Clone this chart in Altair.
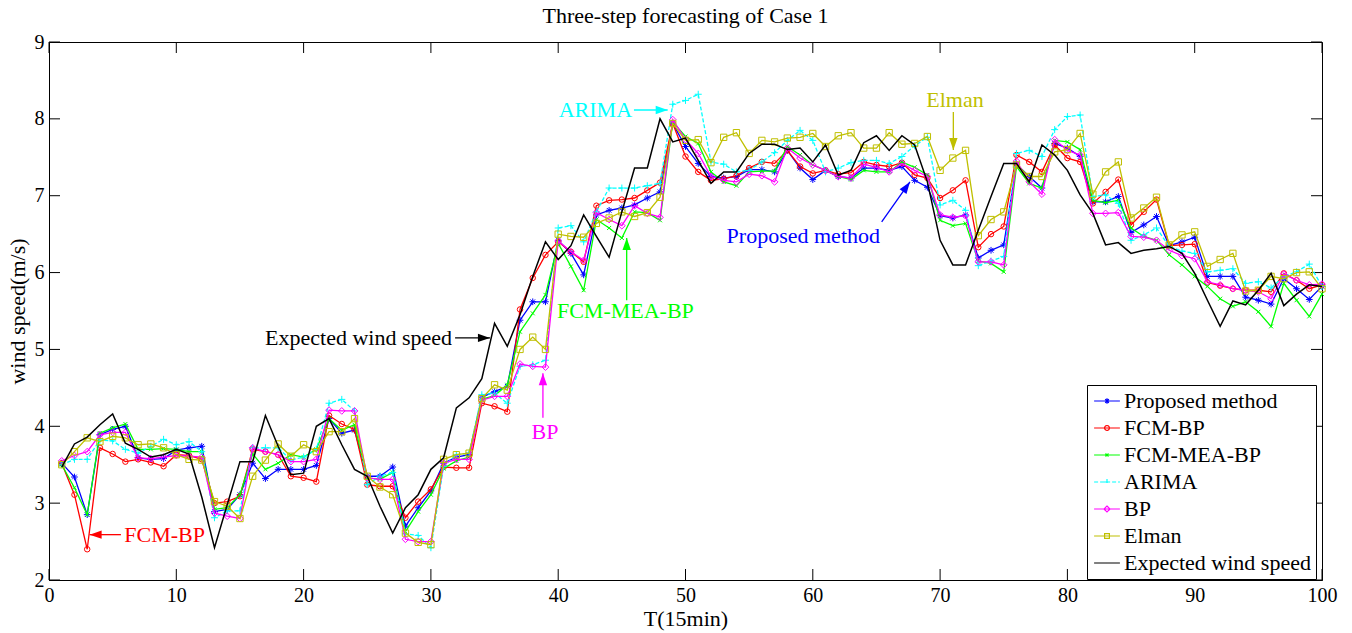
import altair as alt
import pandas as pd

# ---------------- data ----------------
T = list(range(1, 101))
SERIES = ["Proposed method", "FCM-BP", "FCM-MEA-BP", "ARIMA", "BP", "Elman", "Expected wind speed"]

proposed = [3.52, 3.34, 2.85, 3.89, 3.96, 4.00, 3.59, 3.57, 3.58, 3.69,
            3.72, 3.74, 2.89, 2.92, 3.11, 3.52, 3.32, 3.44, 3.44, 3.44,
            3.49, 4.10, 3.91, 3.95, 3.35, 3.35, 3.47, 2.70, 2.94, 3.16,
            3.52, 3.60, 3.63, 4.38, 4.45, 4.52, 5.38, 5.62, 5.62, 6.42,
            6.25, 5.97, 6.75, 6.81, 6.84, 6.88, 6.97, 7.05, 7.94, 7.64,
            7.42, 7.25, 7.23, 7.25, 7.34, 7.34, 7.31, 7.59, 7.36, 7.21,
            7.33, 7.25, 7.23, 7.36, 7.36, 7.33, 7.38, 7.20, 7.11, 6.74,
            6.71, 6.75, 6.19, 6.29, 6.36, 7.41, 7.25, 7.10, 7.68, 7.62,
            7.51, 6.92, 6.92, 6.99, 6.52, 6.62, 6.73, 6.35, 6.40, 6.46,
            5.95, 5.95, 5.95, 5.68, 5.64, 5.59, 5.92, 5.79, 5.65, 5.82]

fcm_bp = [3.52, 3.11, 2.40, 3.72, 3.64, 3.54, 3.57, 3.53, 3.48, 3.63,
          3.62, 3.57, 3.00, 3.02, 3.09, 3.70, 3.67, 3.63, 3.35, 3.33,
          3.28, 4.14, 4.03, 3.96, 3.24, 3.22, 3.22, 2.81, 3.02, 3.18,
          3.47, 3.46, 3.46, 4.30, 4.26, 4.19, 5.52, 5.93, 6.23, 6.40,
          6.27, 6.14, 6.87, 6.94, 6.95, 6.97, 7.07, 7.17, 7.94, 7.51,
          7.31, 7.20, 7.22, 7.26, 7.36, 7.44, 7.42, 7.59, 7.38, 7.29,
          7.33, 7.28, 7.30, 7.44, 7.40, 7.38, 7.43, 7.27, 7.23, 6.97,
          7.07, 7.20, 6.33, 6.50, 6.60, 7.53, 7.44, 7.31, 7.66, 7.49,
          7.44, 6.90, 7.05, 7.21, 6.62, 6.79, 6.95, 6.35, 6.36, 6.37,
          5.87, 5.83, 5.79, 5.77, 5.77, 5.75, 5.99, 5.90, 5.79, 5.84]

fcm_mea_bp = [3.50, 3.20, 2.85, 3.91, 3.98, 4.03, 3.70, 3.70, 3.71, 3.70,
              3.67, 3.67, 2.92, 2.94, 3.11, 3.64, 3.44, 3.52, 3.63, 3.60,
              3.70, 4.10, 3.95, 4.02, 3.33, 3.31, 3.40, 2.63, 2.89, 3.11,
              3.45, 3.55, 3.60, 4.35, 4.40, 4.54, 5.23, 5.47, 5.71, 6.38,
              6.08, 5.77, 6.69, 6.58, 6.45, 6.79, 6.78, 6.68, 7.96, 7.77,
              7.68, 7.31, 7.18, 7.13, 7.31, 7.32, 7.32, 7.64, 7.53, 7.40,
              7.33, 7.25, 7.21, 7.33, 7.31, 7.31, 7.44, 7.37, 7.27, 6.68,
              6.61, 6.64, 6.15, 6.12, 6.01, 7.38, 7.16, 7.10, 7.72, 7.70,
              7.60, 6.94, 6.91, 6.94, 6.58, 6.47, 6.42, 6.23, 6.10, 5.95,
              5.82, 5.66, 5.56, 5.62, 5.49, 5.30, 5.86, 5.64, 5.43, 5.72]

arima = [3.50, 3.57, 3.57, 3.82, 3.81, 3.70, 3.65, 3.74, 3.83, 3.76,
         3.80, 3.67, 2.81, 2.90, 2.90, 3.72, 3.72, 3.72, 3.56, 3.60,
         3.70, 4.30, 4.35, 4.20, 3.24, 3.35, 3.40, 2.60, 2.58, 2.42,
         3.48, 3.63, 3.65, 4.41, 4.43, 4.30, 4.78, 4.80, 4.86, 6.58,
         6.61, 6.40, 6.79, 7.10, 7.10, 7.10, 7.13, 7.16, 8.19, 8.24,
         8.32, 7.44, 7.41, 7.31, 7.33, 7.44, 7.56, 7.72, 7.85, 7.72,
         7.31, 7.36, 7.43, 7.46, 7.46, 7.42, 7.51, 7.65, 7.76, 6.88,
         6.94, 6.81, 6.09, 6.15, 6.21, 7.55, 7.59, 7.51, 7.86, 8.03,
         8.05, 6.99, 7.01, 6.90, 6.42, 6.49, 6.58, 6.34, 6.28, 6.25,
         6.01, 6.03, 6.05, 5.86, 5.88, 5.80, 5.95, 6.01, 6.11, 5.82]

bp = [3.55, 3.62, 3.67, 3.89, 3.92, 3.92, 3.59, 3.58, 3.60, 3.62,
      3.61, 3.60, 2.87, 2.83, 2.80, 3.72, 3.67, 3.63, 3.54, 3.54,
      3.57, 4.21, 4.20, 4.20, 3.33, 3.31, 3.31, 2.53, 2.50, 2.50,
      3.52, 3.57, 3.57, 4.34, 4.39, 4.39, 4.81, 4.78, 4.77, 6.41,
      6.27, 6.16, 6.78, 6.69, 6.61, 6.87, 6.77, 6.72, 7.99, 7.73,
      7.55, 7.25, 7.20, 7.18, 7.28, 7.26, 7.18, 7.62, 7.49, 7.40,
      7.33, 7.25, 7.23, 7.41, 7.37, 7.31, 7.42, 7.33, 7.25, 6.75,
      6.72, 6.74, 6.14, 6.14, 6.10, 7.45, 7.18, 7.02, 7.73, 7.59,
      7.53, 6.77, 6.77, 6.78, 6.47, 6.46, 6.42, 6.29, 6.22, 6.18,
      5.88, 5.84, 5.79, 5.77, 5.75, 5.66, 5.98, 5.90, 5.84, 5.85]

elman = [3.50, 3.67, 3.85, 3.80, 3.87, 3.85, 3.76, 3.77, 3.72, 3.63,
         3.57, 3.56, 3.02, 2.96, 2.80, 3.35, 3.56, 3.77, 3.61, 3.76,
         3.67, 3.93, 3.93, 4.10, 3.35, 3.21, 3.11, 2.61, 2.49, 2.46,
         3.57, 3.63, 3.65, 4.36, 4.54, 4.47, 5.00, 5.16, 5.00, 6.50,
         6.47, 6.46, 6.64, 6.71, 6.79, 6.73, 6.78, 6.98, 7.94, 7.72,
         7.73, 7.43, 7.76, 7.82, 7.55, 7.72, 7.70, 7.75, 7.76, 7.81,
         7.64, 7.78, 7.82, 7.62, 7.62, 7.82, 7.67, 7.68, 7.77, 7.33,
         7.49, 7.59, 6.48, 6.69, 6.79, 7.40, 7.25, 7.25, 7.57, 7.60,
         7.81, 7.02, 7.31, 7.44, 6.71, 6.84, 6.98, 6.36, 6.49, 6.53,
         6.08, 6.17, 6.25, 5.76, 5.77, 5.95, 5.92, 6.00, 6.01, 5.79]

expected = [3.47, 3.77, 3.86, 4.02, 4.16, 3.78, 3.70, 3.60, 3.63, 3.70,
            3.64, 3.08, 2.42, 2.98, 3.54, 3.54, 4.14, 3.74, 3.37, 3.39,
            4.00, 4.10, 3.76, 3.44, 3.35, 2.96, 2.61, 2.94, 3.11, 3.44,
            3.59, 4.24, 4.37, 4.62, 5.34, 5.04, 5.45, 5.95, 6.40, 6.17,
            6.35, 6.75, 6.47, 6.20, 6.79, 7.36, 7.36, 8.00, 7.70, 7.75,
            7.46, 7.16, 7.31, 7.31, 7.55, 7.67, 7.67, 7.60, 7.62, 7.44,
            7.66, 7.27, 7.33, 7.69, 7.78, 7.59, 7.78, 7.66, 7.18, 6.42,
            6.10, 6.10, 6.55, 6.99, 7.42, 7.42, 7.18, 7.66, 7.53, 7.33,
            7.01, 6.77, 6.36, 6.39, 6.25, 6.29, 6.31, 6.34, 6.25, 5.99,
            5.64, 5.30, 5.63, 5.58, 5.77, 5.99, 5.57, 5.72, 5.84, 5.82]

VALUES = [proposed, fcm_bp, fcm_mea_bp, arima, bp, elman, expected]

XTICKS = list(range(0, 101, 10))
YTICKS = list(range(2, 10))

# annotation texts and arrows (data coordinates)
ANN_LABELS = ["FCM-BP", "BP", "Expected wind speed", "FCM-MEA-BP", "ARIMA", "Elman", "Proposed method"]
ANN_TEXT_T = [5.91, 38.96, 31.66, 39.9, 45.8, 71.17, 65.28]
ANN_TEXT_V = [2.59, 3.93, 5.15, 5.50, 8.115, 8.245, 6.476]
ANN_FROM_T = [5.65, 38.8, 31.9, 45.38, 45.95, 71.04, 65.41]
ANN_FROM_V = [2.59, 4.11, 5.15, 5.64, 8.115, 8.09, 6.66]
ANN_TIP_T = [3.19, 38.8, 34.64, 45.38, 48.6, 71.04, 67.63]
ANN_TIP_V = [2.59, 4.69, 5.15, 6.45, 8.115, 7.595, 7.18]

# ---------------- styles ----------------
FONT = "Liberation Serif"
W, H = 1273, 538
COLORS = ["#0000ff", "#ff0000", "#00ff00", "#00ffff", "#ff00ff", "#bfbf00", "#000000"]
MARKERS = [
    "M-1,0L1,0M0,-1L0,1M-0.7,-0.7L0.7,0.7M-0.7,0.7L0.7,-0.7",
    "circle",
    "M-1,-1L1,1M-1,1L1,-1",
    "M-1,0L1,0M0,-1L0,1",
    "diamond",
    "square",
    None,
]
MARKER_SIZES = [45, 30, 16, 49, 45, 40, 0]
LEG_PATHS = [
    "M-4.3,0L4.3,0M-0.9,0L0.9,0M0,-0.9L0,0.9M-0.6,-0.6L0.6,0.6M-0.6,0.6L0.6,-0.6",
    "M-4.3,0L4.3,0M-0.8,0A0.8,0.8 0 1,0 0.8,0A0.8,0.8 0 1,0 -0.8,0",
    "M-4.3,0L4.3,0M-0.5,-0.5L0.5,0.5M-0.5,0.5L0.5,-0.5",
    "M-4.3,0L4.3,0M-1,0L1,0M0,-1L0,1",
    "M-4.3,0L4.3,0M0,-1L1,0L0,1L-1,0Z",
    "M-4.3,0L4.3,0M-0.8,-0.8L0.8,-0.8L0.8,0.8L-0.8,0.8Z",
    "M-4.3,0L4.3,0",
]
DASHES = [[1, 0], [1, 0], [1, 0], [4, 2], [1, 0], [1, 0], [1, 0]]
ANN_ALIGN = ["left", "center", "right", "left", "right", "center", "right"]
ANN_COLOR = ["#ff0000", "#ff00ff", "#000000", "#00ff00", "#00ffff", "#bfbf00", "#0000ff"]
ANN_ANGLE = [270, 0, 90, 0, 90, 180, 35]
HEAD = "M0,0L-0.7,2L0.7,2Z"

# ---------------- build ----------------
rows = []
for name, vals in zip(SERIES, VALUES):
    for t, v in zip(T, vals):
        rows.append({"series": name, "t": t, "v": v})
df = pd.DataFrame(rows)

XS = alt.Scale(domain=[0, 100], nice=False, zero=False)
YS = alt.Scale(domain=[2, 9], nice=False, zero=False)
XA = alt.Axis(values=XTICKS, title="T(15min)")
YA = alt.Axis(values=YTICKS, title="wind speed(m/s)")
X = alt.X("t:Q", scale=XS, axis=XA)
Y = alt.Y("v:Q", scale=YS, axis=YA)

layers = []

# inward ticks on all four sides
xt = pd.DataFrame({"t": XTICKS})
yt = pd.DataFrame({"v": YTICKS})
layers.append(alt.Chart(xt).mark_rule(color="black", strokeWidth=1).encode(x=X, y=alt.value(H), y2=alt.value(H - 11)))
layers.append(alt.Chart(xt).mark_rule(color="black", strokeWidth=1).encode(x=X, y=alt.value(0), y2=alt.value(11)))
layers.append(alt.Chart(yt).mark_rule(color="black", strokeWidth=1).encode(y=Y, x=alt.value(0), x2=alt.value(11)))
layers.append(alt.Chart(yt).mark_rule(color="black", strokeWidth=1).encode(y=Y, x=alt.value(W - 11), x2=alt.value(W)))

for i, name in enumerate(SERIES):
    base = alt.Chart(df).transform_filter(alt.datum.series == name)
    lkw = dict(color=COLORS[i], strokeWidth=1.5 if i == 6 else 1.3)
    if i == 3:
        lkw["strokeDash"] = [4, 2]
    layers.append(base.mark_line(**lkw).encode(x=X, y=Y))
    if MARKERS[i] is not None:
        layers.append(base.mark_point(shape=MARKERS[i], size=MARKER_SIZES[i], filled=False,
                                      color=COLORS[i], strokeWidth=1, opacity=1).encode(x=X, y=Y))

# annotations
ann = pd.DataFrame({"label": ANN_LABELS, "t": ANN_TEXT_T, "v": ANN_TEXT_V,
                    "t1": ANN_FROM_T, "v1": ANN_FROM_V, "t2": ANN_TIP_T, "v2": ANN_TIP_V})
for i, lab in enumerate(ANN_LABELS):
    a = alt.Chart(ann).transform_filter(alt.datum.label == lab)
    layers.append(a.mark_rule(color=ANN_COLOR[i], strokeWidth=1.3).encode(
        x=alt.X("t1:Q", scale=XS, axis=XA), y=alt.Y("v1:Q", scale=YS, axis=YA),
        x2="t2:Q", y2="v2:Q"))
    layers.append(a.mark_point(shape=HEAD, size=144, filled=True, color=ANN_COLOR[i],
                               angle=ANN_ANGLE[i], opacity=1, strokeWidth=0).encode(
        x=alt.X("t2:Q", scale=XS, axis=XA), y=alt.Y("v2:Q", scale=YS, axis=YA)))
    layers.append(a.mark_text(font=FONT, fontSize=22, align=ANN_ALIGN[i], baseline="middle",
                              color=ANN_COLOR[i]).encode(x=X, y=Y, text="label:N"))

# legend (built from scales with explicit domains; the layer itself draws nothing)
LEG = dict(title=None, orient="none", legendX=1038, legendY=343,
           labelFont=FONT, labelFontSize=22, labelLimit=400, labelColor="black",
           symbolSize=36, symbolStrokeWidth=1.2, symbolOffset=4, labelOffset=6,
           rowPadding=5, padding=5, strokeColor="black", fillColor="white",
           symbolOpacity=1)
layers.append(alt.Chart(df).transform_filter("false").mark_point(filled=False, strokeWidth=1.2).encode(
    x=X, y=Y,
    color=alt.Color("series:N", scale=alt.Scale(domain=SERIES, range=COLORS), legend=alt.Legend(**LEG)),
    shape=alt.Shape("series:N", scale=alt.Scale(domain=SERIES, range=LEG_PATHS), legend=alt.Legend(**LEG)),
    strokeDash=alt.StrokeDash("series:N", scale=alt.Scale(domain=SERIES, range=DASHES), legend=alt.Legend(**LEG)),
))

chart = alt.layer(*layers).properties(
    width=W, height=H,
    title=alt.TitleParams("Three-step forecasting of Case 1", font=FONT, fontSize=22,
                          fontWeight="normal", anchor="middle", offset=4, color="black"),
    autosize=alt.AutoSizeParams(type="none"),
    padding={"left": 49, "top": 42, "right": 30, "bottom": 53},
).configure_view(stroke="black", strokeWidth=1).configure_axis(
    labelFont=FONT, labelFontSize=20, labelColor="black",
    titleFont=FONT, titleFontSize=22, titleFontWeight="normal", titleColor="black",
    ticks=False, tickSize=0, domainColor="black", domainWidth=1, grid=False,
    labelFlush=False, labelOverlap=False,
).configure_axisX(labelPadding=5, titlePadding=3).configure_axisY(labelPadding=5, titlePadding=5)

chart.save("out.html", embed_options={"renderer": "svg", "actions": False})
